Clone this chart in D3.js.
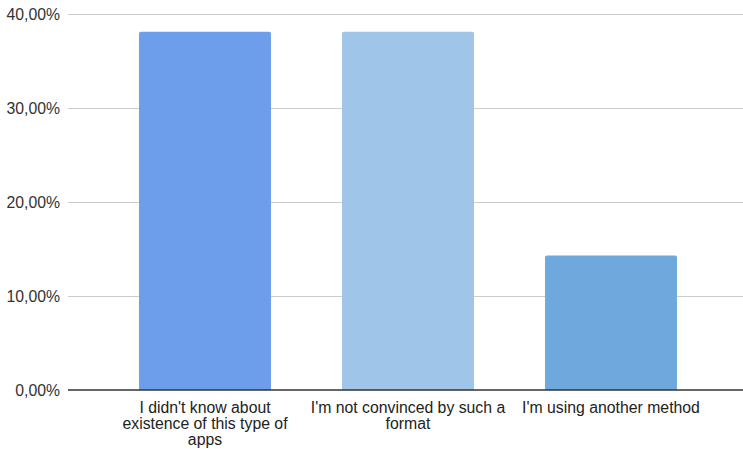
<!DOCTYPE html>
<html><head><meta charset="utf-8">
<script src="https://cdn.jsdelivr.net/npm/d3@7"></script>
<style>body{margin:0;background:#fff}svg{display:block}text{font-family:"Liberation Sans",Arial,sans-serif}</style>
</head><body>
<script>
const categories = [
  ["I didn't know about", "existence of this type of", "apps"],
  ["I'm not convinced by such a", "format"],
  ["I'm using another method"]
];
const values = [38.1, 38.1, 14.3];
const colors = ["#6d9eeb", "#9fc5e8", "#6fa8dc"];
const yTicks = [0, 10, 20, 30, 40];
const yTickLabels = ["0,00%", "10,00%", "20,00%", "30,00%", "40,00%"];

const W = 743, H = 449;
const svg = d3.select("body").append("svg").attr("width", W).attr("height", H);
const y = d3.scaleLinear().domain([0, 40]).range([390, 14]);
const x = d3.scaleBand().domain(d3.range(values.length)).range([103.5, 712.5]).paddingInner(0.35).paddingOuter(0.175);

// gridlines
svg.append("g").selectAll("line").data(yTicks.filter(t => t > 0)).join("line")
  .attr("x1", 68).attr("x2", W).attr("y1", d => Math.round(y(d)) + 0.5).attr("y2", d => Math.round(y(d)) + 0.5)
  .attr("stroke", "#cccccc").attr("stroke-width", 1);

// y labels
svg.append("g").selectAll("text").data(yTicks).join("text")
  .attr("x", 60).attr("y", d => y(d)).attr("dy", "0.35em").attr("text-anchor", "end")
  .attr("font-size", 15.8).attr("fill", "#333").text((d, i) => yTickLabels[i]);

// bars with rounded top
const r = 2;
svg.append("g").selectAll("path").data(values).join("path")
  .attr("fill", (d, i) => colors[i])
  .attr("d", (d, i) => {
    const x0 = x(i), x1 = x(i) + x.bandwidth(), y0 = y(d), yb = y(0);
    return `M${x0},${yb}V${y0 + r}Q${x0},${y0} ${x0 + r},${y0}H${x1 - r}Q${x1},${y0} ${x1},${y0 + r}V${yb}Z`;
  });

// baseline
svg.append("line").attr("x1", 68).attr("x2", W).attr("y1", y(0)).attr("y2", y(0))
  .attr("stroke", "#333").attr("stroke-width", 1.5);

// category labels
const lab = svg.append("g").selectAll("text").data(categories).join("text")
  .attr("text-anchor", "middle").attr("font-size", 15.8).attr("fill", "#222");
lab.each(function(lines, i) {
  d3.select(this).selectAll("tspan").data(lines).join("tspan")
    .attr("x", x(i) + x.bandwidth() / 2).attr("y", (d, j) => 412.5 + j * 16).text(d => d);
});
</script>
</body></html>
